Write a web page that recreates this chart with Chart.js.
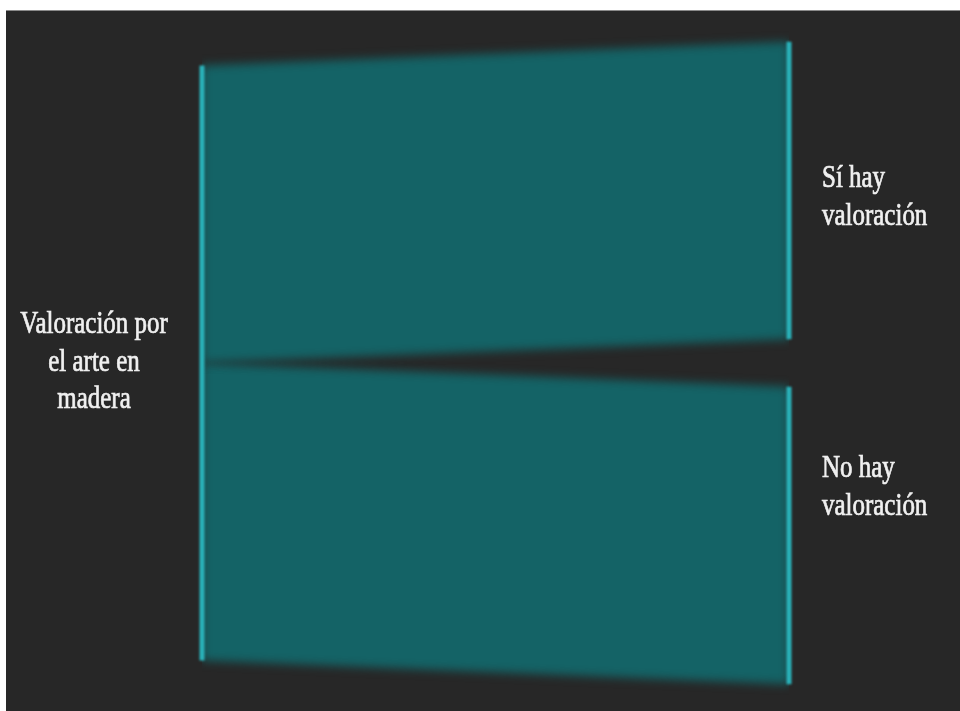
<!DOCTYPE html>
<html lang="es">
<head>
    <meta charset="UTF-8">
    <title>Valoración por el arte en madera</title>
    <script src="https://cdn.jsdelivr.net/npm/chart.js@4.4.1/dist/chart.umd.min.js"></script>
    <style>
        body {
            margin: 0;
            background-color: #ffffff;
            width: 960px;
            height: 711px;
            overflow: hidden;
        }
        .panel {
            position: absolute;
            left: 6px;
            top: 10px;
            width: 954px;
            height: 701px;
            background-color: #272727;
            border-top: 1px solid #8a8a8a;
            box-sizing: border-box;
        }
        #sankey {
            position: absolute;
            left: 0;
            top: -1px;
        }
    </style>
</head>
<body>
    <div class="panel">
        <canvas id="sankey" width="954" height="701"></canvas>
    </div>

    <script>
        // Data: one source node split into two target nodes
        const sourceLabel = ['Valoración por', 'el arte en', 'madera'];
        const targetLabels = [
            ['Sí hay', 'valoración'],
            ['No hay', 'valoración']
        ];
        const flowValues = [50, 50];

        // Layout constants (in value units / px)
        const nodeGap = 8;
        const flowColor = '#146366';
        const nodeColor = '#2ab4bb';
        const textColor = '#f0f0f0';

        const total = flowValues.reduce((a, b) => a + b, 0);
        const rightTotal = total + nodeGap * (flowValues.length - 1);

        // stack the flows on both sides, from the top down
        const datasets = [];
        let leftTop = total / 2;
        let rightTop = rightTotal / 2;
        const rightNodes = [];
        flowValues.forEach((v, i) => {
            datasets.push({
                label: targetLabels[i].join(' '),
                data: [{ x: 0, y: leftTop }, { x: 1, y: rightTop }],
                fill: '+1',
                backgroundColor: flowColor,
                borderWidth: 0,
                pointRadius: 0,
                clip: false
            });
            datasets.push({
                label: targetLabels[i].join(' ') + ' (base)',
                data: [{ x: 0, y: leftTop - v }, { x: 1, y: rightTop - v }],
                fill: false,
                borderWidth: 0,
                pointRadius: 0,
                clip: false
            });
            rightNodes.push([rightTop, rightTop - v]);
            leftTop -= v;
            rightTop -= v + nodeGap;
        });

        // node bars go first so they are drawn on top
        const nodeSets = [{
            data: [{ x: 0, y: total / 2 }, { x: 0, y: -total / 2 }]
        }].concat(rightNodes.map(n => ({
            data: [{ x: 1, y: n[0] }, { x: 1, y: n[1] }]
        }))).map(d => Object.assign(d, {
            label: 'node',
            borderColor: nodeColor,
            borderWidth: 5,
            borderCapStyle: 'butt',
            pointRadius: 0,
            fill: false,
            clip: false
        }));

        // soft edges like the original picture
        const blurPlugin = {
            id: 'blurPlugin',
            beforeDraw(chart) {
                chart.ctx.filter = 'blur(5px)';
            },
            beforeDatasetsDraw(chart) {
                chart.ctx.filter = 'blur(1px)';
            },
            afterDatasetsDraw(chart) {
                chart.ctx.filter = 'none';
            }
        };

        const labelPlugin = {
            id: 'labelPlugin',
            afterDraw(chart) {
                const ctx = chart.ctx;
                const drawLines = (lines, x, y0, align) => {
                    ctx.save();
                    ctx.font = '26px "Liberation Serif", serif';
                    ctx.fillStyle = textColor;
                    ctx.strokeStyle = textColor;
                    ctx.lineWidth = 0.6;
                    ctx.textAlign = align;
                    ctx.textBaseline = 'alphabetic';
                    lines.forEach((line, i) => {
                        ctx.save();
                        ctx.translate(x, y0 + i * 37.5);
                        ctx.scale(0.96, 1.2);
                        ctx.fillText(line, 0, 0);
                        ctx.strokeText(line, 0, 0);
                        ctx.restore();
                    });
                    ctx.restore();
                };
                drawLines(sourceLabel, 88, 323, 'center');
                drawLines(targetLabels[0], 816, 177, 'left');
                drawLines(targetLabels[1], 816, 467, 'left');
            }
        };

        new Chart(document.getElementById('sankey'), {
            type: 'line',
            data: { datasets: nodeSets.concat(datasets) },
            options: {
                responsive: false,
                animation: false,
                layout: {
                    padding: { left: 196, right: 171, top: 8, bottom: 3 }
                },
                scales: {
                    x: { type: 'linear', min: 0, max: 1, display: false },
                    y: { type: 'linear', min: -58, max: 58, display: false }
                },
                plugins: {
                    legend: { display: false },
                    tooltip: { enabled: false },
                    filler: { drawTime: 'beforeDatasetsDraw' }
                }
            },
            plugins: [blurPlugin, labelPlugin]
        });
    </script>
</body>
</html>
